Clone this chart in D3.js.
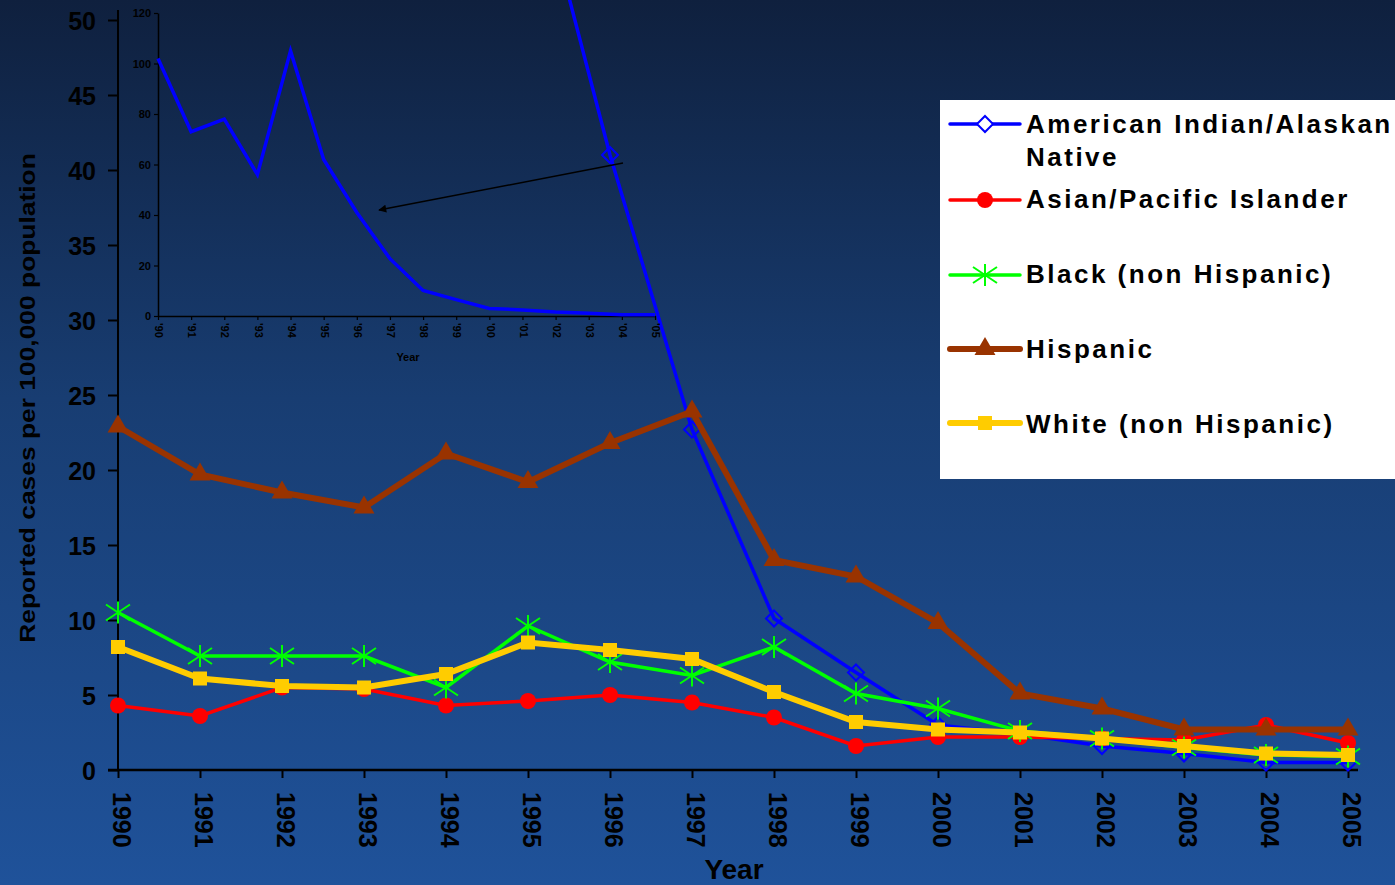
<!DOCTYPE html>
<html>
<head>
<meta charset="utf-8">
<script src="https://cdn.jsdelivr.net/npm/d3@7"></script>
<style>
  html, body { margin: 0; padding: 0; background: #1a3f78; }
  svg { display: block; }
  text { font-family: Arial, "Liberation Sans", sans-serif; font-weight: bold; }
</style>
</head>
<body>
<svg id="chart" width="1395" height="885"></svg>
<script>
// Reported cases per 100,000 population, 1990-2005
const years = [1990, 1991, 1992, 1993, 1994, 1995, 1996, 1997, 1998, 1999, 2000, 2001, 2002, 2003, 2004, 2005];
const americanIndian = [102, 73, 78, 56, 105, 62, 41, 22.7, 10.1, 6.5, 3.0, 2.4, 1.6, 1.1, 0.5, 0.5];
const asianPacific   = [4.3, 3.6, 5.5, 5.4, 4.3, 4.6, 5.0, 4.5, 3.5, 1.6, 2.2, 2.2, 2.1, 2.0, 3.0, 1.8];
const blackNonHisp   = [10.5, 7.6, 7.6, 7.6, 5.5, 9.6, 7.2, 6.3, 8.2, 5.1, 4.1, 2.6, 2.1, 1.5, 1.0, 0.9];
const hispanic       = [22.9, 19.7, 18.5, 17.5, 21.1, 19.2, 21.8, 23.9, 14.0, 12.9, 9.8, 5.1, 4.1, 2.7, 2.7, 2.7];
const whiteNonHisp   = [8.2, 6.1, 5.6, 5.5, 6.4, 8.5, 8.0, 7.4, 5.2, 3.2, 2.7, 2.5, 2.1, 1.6, 1.1, 1.0];

const yTicks = [0, 5, 10, 15, 20, 25, 30, 35, 40, 45, 50];
const insetYTicks = [0, 20, 40, 60, 80, 100, 120];
const insetXLabels = ["'90", "'91", "'92", "'93", "'94", "'95", "'96", "'97", "'98", "'99", "'00", "'01", "'02", "'03", "'04", "'05"];

const seriesNames = ["American Indian/Alaskan Native", "Asian/Pacific Islander", "Black (non Hispanic)", "Hispanic", "White (non Hispanic)"];

const series = [
  { name: seriesNames[0], values: americanIndian, color: "#0000ff", width: 3.5, marker: "diamond" },
  { name: seriesNames[1], values: asianPacific,   color: "#ff0000", width: 3.5, marker: "circle" },
  { name: seriesNames[2], values: blackNonHisp,   color: "#00ff00", width: 3.5, marker: "asterisk" },
  { name: seriesNames[3], values: hispanic,       color: "#993300", width: 6,   marker: "triangle" },
  { name: seriesNames[4], values: whiteNonHisp,   color: "#ffcc00", width: 6,   marker: "square" }
];

const svg = d3.select("#chart");

// background gradient
const defs = svg.append("defs");
const grad = defs.append("linearGradient").attr("id", "bg").attr("x1", 0).attr("y1", 0).attr("x2", 0).attr("y2", 1);
grad.append("stop").attr("offset", "0%").attr("stop-color", "#0f203e");
grad.append("stop").attr("offset", "45%").attr("stop-color", "#183d72");
grad.append("stop").attr("offset", "100%").attr("stop-color", "#1f529a");
svg.append("rect").attr("width", 1395).attr("height", 885).attr("fill", "url(#bg)");

defs.append("marker")
  .attr("id", "arrowHead")
  .attr("viewBox", "0 0 10 10")
  .attr("refX", 9).attr("refY", 5)
  .attr("markerWidth", 10).attr("markerHeight", 8)
  .attr("markerUnits", "userSpaceOnUse")
  .attr("orient", "auto")
  .append("path").attr("d", "M0,0 L10,5 L0,10 Z").attr("fill", "#000");

// main scales
const x = d3.scaleLinear().domain([1990, 2005]).range([118, 1348]);
const y = d3.scaleLinear().domain([0, 50]).range([770, 20]);

// y axis
const yAxis = svg.append("g").attr("transform", "translate(118,0)")
  .call(d3.axisLeft(y).tickValues(yTicks).tickSize(10).tickSizeOuter(0).tickPadding(12));
yAxis.select(".domain").attr("d", "M0,770V10").attr("stroke", "#000").attr("stroke-width", 2);
yAxis.selectAll(".tick line").attr("stroke", "#000").attr("stroke-width", 2);
yAxis.selectAll(".tick text").attr("fill", "#000").style("font-size", "25px").attr("font-family", null).attr("dy", "0.36em");

// x axis
const xAxis = svg.append("g").attr("transform", "translate(0,770)")
  .call(d3.axisBottom(x).tickValues(years).tickFormat(d3.format("d")).tickSize(8).tickSizeOuter(0));
xAxis.select(".domain").attr("d", "M108,0H1358").attr("stroke", "#000").attr("stroke-width", 2.5);
xAxis.selectAll(".tick line").attr("stroke", "#000").attr("stroke-width", 2);
xAxis.selectAll(".tick text")
  .attr("fill", "#000").style("font-size", "25px").attr("font-family", null)
  .attr("text-anchor", "start")
  .attr("transform", "translate(0,22) rotate(90)")
  .attr("x", 0).attr("y", 0).attr("dy", "0.22em");

// axis titles
svg.append("text")
  .attr("transform", "translate(35,398) rotate(-90) scale(1.2,1)")
  .attr("text-anchor", "middle")
  .style("font-size", "22px")
  .attr("fill", "#000")
  .text("Reported cases per 100,000 population");
svg.append("text")
  .attr("x", 734).attr("y", 879)
  .attr("text-anchor", "middle")
  .style("font-size", "28px")
  .attr("fill", "#000")
  .text("Year");

// marker drawing
function drawMarker(g, type, color, cx, cy, bg) {
  if (type === "diamond") {
    g.append("path").attr("transform", `translate(${cx},${cy})`)
      .attr("d", "M0,-8L8,0L0,8L-8,0Z")
      .attr("fill", bg).attr("stroke", color).attr("stroke-width", 2);
  } else if (type === "circle") {
    g.append("circle").attr("cx", cx).attr("cy", cy).attr("r", 8).attr("fill", color);
  } else if (type === "asterisk") {
    g.append("path").attr("transform", `translate(${cx},${cy})`)
      .attr("d", "M0,-11V11M-12,-8L12,8M-12,8L12,-8")
      .attr("stroke", color).attr("stroke-width", 2).attr("fill", "none");
  } else if (type === "triangle") {
    g.append("path").attr("transform", `translate(${cx},${cy})`)
      .attr("d", d3.symbol(d3.symbolTriangle, 190)())
      .attr("fill", color);
  } else if (type === "square") {
    g.append("rect").attr("x", cx - 7).attr("y", cy - 7).attr("width", 14).attr("height", 14).attr("fill", color);
  }
}

// series lines + markers
const line = d3.line().x((d, i) => x(years[i])).y(d => y(d));
const plot = svg.append("g");
series.forEach(s => {
  const g = plot.append("g");
  g.append("path").datum(s.values).attr("d", line)
    .attr("fill", "none").attr("stroke", s.color).attr("stroke-width", s.width)
    .attr("stroke-linejoin", "miter");
  s.values.forEach((v, i) => {
    const cy = y(v);
    if (cy >= 0) drawMarker(g, s.marker, s.color, x(years[i]), cy, "none");
  });
});

// inset: American Indian/Alaskan Native on its own scale
const ix = d3.scaleLinear().domain([1990, 2005]).range([158, 655]);
const iy = d3.scaleLinear().domain([0, 120]).range([316, 13]);
const inset = svg.append("g");
const iyAxis = inset.append("g").attr("transform", "translate(158,0)")
  .call(d3.axisLeft(iy).tickValues(insetYTicks).tickSize(4).tickSizeOuter(0).tickPadding(3));
iyAxis.select(".domain").attr("stroke", "#000").attr("stroke-width", 1.5);
iyAxis.selectAll(".tick line").attr("stroke", "#000").attr("stroke-width", 1.2);
iyAxis.selectAll(".tick text").attr("fill", "#000").style("font-size", "11px").attr("font-family", null);

const ixAxis = inset.append("g").attr("transform", "translate(0,316)")
  .call(d3.axisBottom(ix).tickValues(years).tickFormat((d, i) => insetXLabels[i]).tickSize(4).tickSizeOuter(0));
ixAxis.select(".domain").attr("stroke", "#000").attr("stroke-width", 1.5);
ixAxis.selectAll(".tick line").attr("stroke", "#000").attr("stroke-width", 1.2);
ixAxis.selectAll(".tick text")
  .attr("fill", "#000").style("font-size", "11px").attr("font-family", null)
  .attr("text-anchor", "start")
  .attr("transform", "translate(0,7) rotate(90)")
  .attr("x", 0).attr("y", 0).attr("dy", "0.3em");
inset.append("text").attr("x", 408).attr("y", 361).attr("text-anchor", "middle")
  .style("font-size", "11px").attr("fill", "#000").text("Year");

const iline = d3.line().x((d, i) => ix(years[i])).y(d => iy(d));
inset.append("path").datum(americanIndian).attr("d", iline)
  .attr("fill", "none").attr("stroke", "#0000ff").attr("stroke-width", 3.5);

// arrow pointing from the main series into the inset
inset.append("line")
  .attr("x1", 623).attr("y1", 163).attr("x2", 379).attr("y2", 210)
  .attr("stroke", "#000").attr("stroke-width", 1.5)
  .attr("marker-end", "url(#arrowHead)");

// legend
const legend = svg.append("g");
legend.append("rect").attr("x", 940).attr("y", 100).attr("width", 460).attr("height", 379).attr("fill", "#fff");
const legendRows = [
  { lineY: 124, lines: ["American Indian/Alaskan", "Native"], baselines: [133, 166] },
  { lineY: 200, lines: ["Asian/Pacific Islander"], baselines: [208] },
  { lineY: 275, lines: ["Black (non Hispanic)"], baselines: [283] },
  { lineY: 349, lines: ["Hispanic"], baselines: [358] },
  { lineY: 423, lines: ["White (non Hispanic)"], baselines: [433] }
];
series.forEach((s, i) => {
  const r = legendRows[i];
  const g = legend.append("g");
  g.append("line").attr("x1", 950).attr("x2", 1020).attr("y1", r.lineY).attr("y2", r.lineY)
    .attr("stroke", s.color).attr("stroke-width", s.width).attr("stroke-linecap", "round");
  drawMarker(g, s.marker, s.color, 985, r.lineY, "#fff");
  r.lines.forEach((t, j) => {
    g.append("text").attr("x", 1026).attr("y", r.baselines[j])
      .style("font-size", "26px").style("letter-spacing", "2.5px")
      .attr("fill", "#000").text(t);
  });
});
</script>
</body>
</html>
